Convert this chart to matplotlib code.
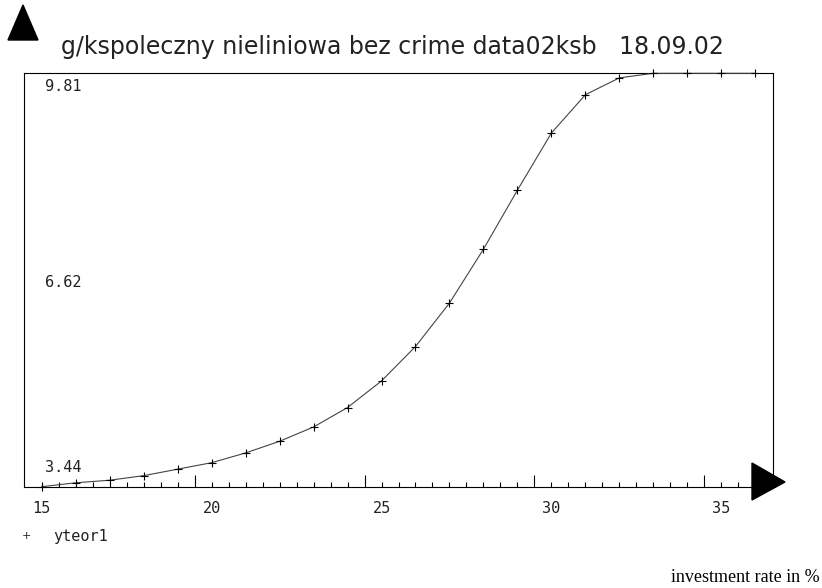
import matplotlib
matplotlib.use("Agg")
import matplotlib.pyplot as plt
from matplotlib.patches import Polygon
import numpy as np

# ---- data ----
x_rate = [15, 16, 17, 18, 19, 20, 21, 22, 23, 24, 25, 26, 27, 28, 29, 30, 31, 32, 33, 34, 35, 36]
yteor1 = [3.44, 3.50, 3.54, 3.61, 3.71, 3.81, 3.96, 4.14, 4.36, 4.66, 5.07, 5.60, 6.27, 7.10,
          8.01, 8.89, 9.48, 9.74, 9.81, 9.81, 9.81, 9.81]
y_ticklabels = ["9.81", "6.62", "3.44"]
y_label_pos = [9.60, 6.58, 3.73]
x_ticklabels = ["15", "20", "25", "30", "35"]
x_label_pos = [15, 20, 25, 30, 35]
title = "g/kspoleczny nieliniowa bez crime data02ksb   18.09.02"
legend_label = "yteor1"
xlabel = "investment rate in %"

W, H = 822, 588
fig = plt.figure(figsize=(W / 100, H / 100), dpi=100)
L, R, T, B = 24, 773, 73.3, 486.7
ax = fig.add_axes([L / W, 1 - B / H, (R - L) / W, (B - T) / H])
ax.set_xlim(14.48, 36.52)
ax.set_ylim(3.44, 9.81)

for s in ax.spines.values():
    s.set_linewidth(0.8)
    s.set_color("black")

ax.plot(x_rate, yteor1, color="#444444", lw=0.8, clip_on=False, zorder=3)
ax.plot(x_rate, yteor1, ls="none", marker="+", ms=5.5, mew=0.8, color="black",
        clip_on=False, zorder=4)

# ticks: minor every 0.5 from 15, longer ones at 19.5, 24.5, ...
minor = np.arange(15, 36.01, 0.5)
major = [19.5, 24.5, 29.5, 34.5]
ax.set_xticks([m for m in minor if m not in major], minor=True)
ax.set_xticks(major)
ax.tick_params(axis="x", which="minor", direction="in", length=3.6, width=0.8, labelbottom=False)
ax.tick_params(axis="x", which="major", direction="in", length=8.4, width=0.8, labelbottom=False)
ax.set_yticks([])

mono = ["DejaVu Sans Mono"]
for lab, xp in zip(x_ticklabels, x_label_pos):
    ax.text(xp, -0.052, lab, transform=ax.get_xaxis_transform(), ha="center", va="center",
            fontsize=11, family=mono, color="#222222")

for lab, yp in zip(y_ticklabels, y_label_pos):
    ax.text(14.48 + 0.62, yp, lab, ha="left", va="center", fontsize=11, family=mono,
            color="#222222")

# title
fig.text(392 / W, 1 - 47 / H, title, ha="center", va="center", fontsize=17,
         family=["DejaVu Sans"], color="#222222")

# legend
fig.text(26 / W, 1 - 536 / H, "+", ha="center", va="center", fontsize=8, color="#222222")
fig.text(53 / W, 1 - 536 / H, legend_label, ha="left", va="center", fontsize=11,
         family=mono, color="#222222")

# axis arrows
up = Polygon([[8 / W, 1 - 40 / H], [38 / W, 1 - 40 / H], [23 / W, 1 - 5 / H]],
             closed=True, transform=fig.transFigure, color="black")
right = Polygon([[752 / W, 1 - 463 / H], [752 / W, 1 - 500 / H], [785 / W, 1 - 482 / H]],
                closed=True, transform=fig.transFigure, color="black")
fig.patches.extend([up, right])

fig.text(820 / W, 1 - 578 / H, xlabel, ha="right", va="center", fontsize=13,
         family=["Liberation Serif", "DejaVu Serif"], color="black")

fig.savefig("out.png", dpi=100)
